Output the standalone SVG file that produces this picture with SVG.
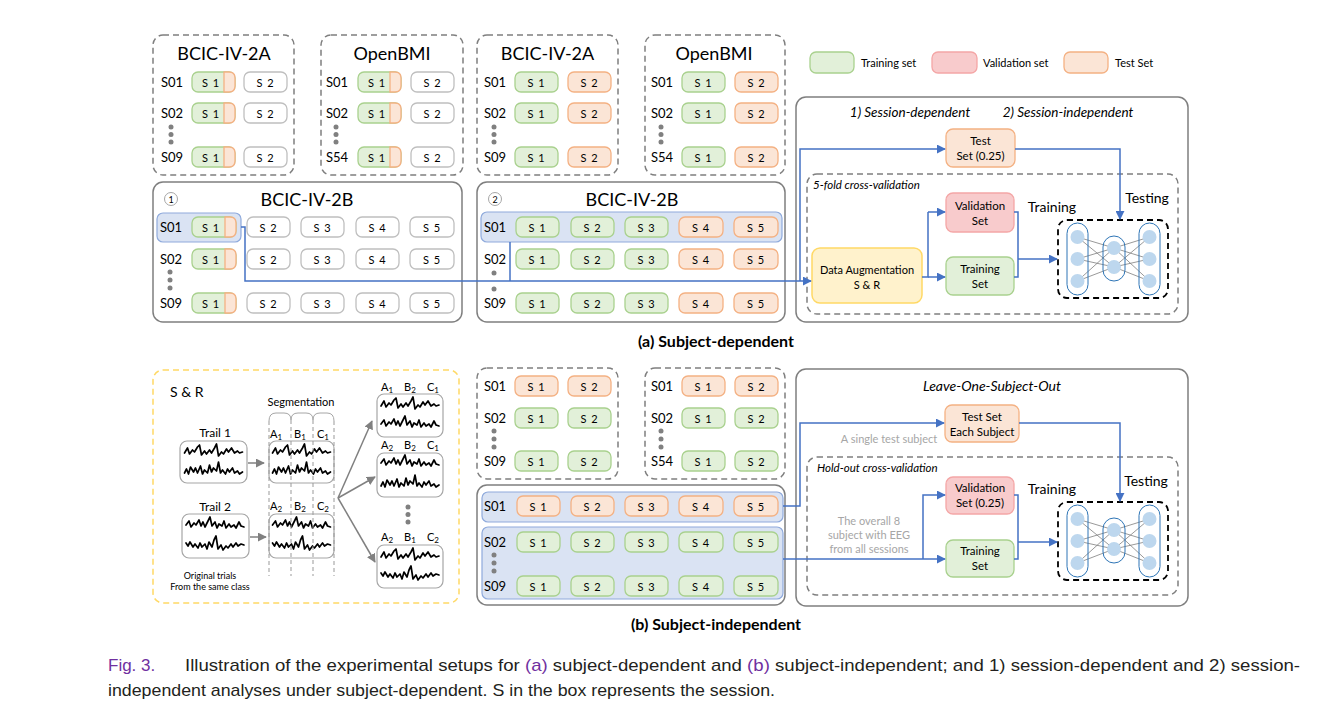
<svg xmlns="http://www.w3.org/2000/svg" xmlns:xlink="http://www.w3.org/1999/xlink" width="1343" height="712" viewBox="0 0 1343 712">
<style>
.db{fill:none;stroke:#7f7f7f;stroke-width:1.5;stroke-dasharray:6 4}
.sb{fill:none;stroke:#7f7f7f;stroke-width:1.5}
.pg{fill:#e2f0d9;stroke:#a9d18e;stroke-width:1.3}
.po{fill:#fbe5d6;stroke:#f4b183;stroke-width:1.3}
.pw{fill:#fff;stroke:#bfbfbf;stroke-width:1.3}
.pv{fill:#f8cbcc;stroke:#f4a6a6;stroke-width:1.3}
.py{fill:#fff2cc;stroke:#ffd966;stroke-width:1.5}
.hl{fill:#dae3f3;stroke:#8faadc;stroke-width:1.2}
text{font-family:Lato,"Open Sans",sans-serif;fill:#000}
.pt{font-size:11px;text-anchor:middle;dominant-baseline:central;letter-spacing:1px}
.rl{font-size:13px;text-anchor:middle;dominant-baseline:central}
.ttl{font-size:18px;text-anchor:middle}
.bx{font-size:11.5px;text-anchor:middle}
.lg{font-size:11px;dominant-baseline:central}
.it{font-style:italic}
.gr{fill:#a6a6a6;font-size:11px;text-anchor:middle}
.dot{fill:#808080}
.cn{fill:none;stroke:#4472c4;stroke-width:1.5}
.ca{fill:none;stroke:#4472c4;stroke-width:1.5;marker-end:url(#ab)}
.ga{fill:none;stroke:#808080;stroke-width:1.5;marker-end:url(#ag)}
.wv{fill:none;stroke:#000;stroke-width:1.7;stroke-linejoin:round;stroke-linecap:round}
.eb{fill:#fff;stroke:#a6a6a6;stroke-width:1.2}
.seg{fill:none;stroke:#999;stroke-width:1;stroke-dasharray:4 3}
.cap{font-family:"Liberation Sans",Arial,sans-serif;font-size:17px;fill:#231f20}
</style>
<defs>
<marker id="ab" viewBox="0 0 10 10" refX="9" refY="5" markerWidth="9" markerHeight="9" markerUnits="userSpaceOnUse" orient="auto"><path d="M0,0 L10,5 L0,10 z" fill="#4472c4"/></marker>
<marker id="ag" viewBox="0 0 10 10" refX="9" refY="5" markerWidth="9" markerHeight="9" markerUnits="userSpaceOnUse" orient="auto"><path d="M0,0 L10,5 L0,10 z" fill="#808080"/></marker>
<path id="w1" class="wv" d="M0,9 L3,4 L5,10 L8,6 L10,8 L13,3 L15,1 L17,11 L20,7 L22,10 L25,6 L27,9 L30,4 L32,0 L34,12 L37,8 L39,10 L42,5 L44,8 L47,4 L50,9 L53,7 L55,9 L58,8"/>
<path id="w2" class="wv" d="M0,10 L2,6 L4,11 L6,4 L9,9 L11,5 L13,10 L16,3 L18,11 L20,7 L23,10 L25,2 L27,9 L29,5 L32,8 L34,-1 L36,10 L38,7 L41,11 L43,6 L45,9 L48,5 L50,10 L53,8 L55,11 L58,9"/>
<path id="w3" class="wv" d="M0,7 L3,3 L5,9 L8,5 L10,7 L13,2 L15,8 L17,4 L19,9 L22,3 L24,-1 L26,8 L29,4 L31,10 L33,6 L36,8 L38,3 L40,10 L43,6 L45,9 L48,7 L50,10 L53,4 L55,8 L58,9"/>
<path id="w4" class="wv" d="M0,5 L2,8 L4,4 L7,9 L9,6 L12,10 L14,5 L16,9 L19,6 L21,11 L23,4 L26,9 L28,2 L30,-2 L32,11 L35,7 L37,12 L40,8 L42,10 L45,6 L47,9 L50,5 L52,8 L55,6 L58,7"/>
<g id="nn">
<rect x="0" y="0" width="110" height="78" rx="9" fill="#fff" stroke="#000" stroke-width="1.8" stroke-dasharray="6 4"/>
<g stroke="#7f7f7f" stroke-width="0.8">
<path d="M19.5,17 L56,28 M19.5,17 L56,47 M19.5,39 L56,28 M19.5,39 L56,47 M19.5,61 L56,28 M19.5,61 L56,47 M56,28 L91.5,17 M56,28 L91.5,39 M56,28 L91.5,61 M56,47 L91.5,17 M56,47 L91.5,39 M56,47 L91.5,61"/>
</g>
<g fill="none" stroke="#2e75b6" stroke-width="1">
<rect x="9" y="3" width="21" height="72" rx="10.5"/>
<rect x="45" y="16" width="22" height="45" rx="11"/>
<rect x="81" y="3" width="21" height="72" rx="10.5"/>
</g>
<g fill="#bdd7ee">
<circle cx="19.5" cy="17" r="7"/><circle cx="19.5" cy="39" r="7"/><circle cx="19.5" cy="61" r="7"/>
<circle cx="56" cy="28" r="7"/><circle cx="56" cy="47" r="7"/>
<circle cx="91.5" cy="17" r="7"/><circle cx="91.5" cy="39" r="7"/><circle cx="91.5" cy="61" r="7"/>
</g>
</g>
</defs>
<rect width="1343" height="712" fill="#fff"/>

<!-- (a) top: BCIC-IV-2A session-dependent -->
<g id="a-2a-1">
<rect class="db" x="153" y="35" width="141" height="140" rx="10"/>
<text class="ttl" x="224" y="60">BCIC-IV-2A</text>
<text class="rl" x="172" y="82">S01</text><text class="rl" x="172" y="113">S02</text><text class="rl" x="172" y="157">S09</text>
<circle class="dot" cx="171" cy="127" r="2.5"/><circle class="dot" cx="171" cy="134.5" r="2.5"/><circle class="dot" cx="171" cy="142" r="2.5"/>
<rect class="pg" x="192" y="72" width="43" height="20" rx="6"/><path class="po" d="M224,72 H229 Q235,72 235,78 V86 Q235,92 229,92 H224 Z"/><text class="pt" x="211" y="82">S 1</text>
<rect class="pw" x="244" y="72" width="43" height="20" rx="6"/><text class="pt" x="265.5" y="82">S 2</text>
<rect class="pg" x="192" y="103" width="43" height="20" rx="6"/><path class="po" d="M224,103 H229 Q235,103 235,109 V117 Q235,123 229,123 H224 Z"/><text class="pt" x="211" y="113">S 1</text>
<rect class="pw" x="244" y="103" width="43" height="20" rx="6"/><text class="pt" x="265.5" y="113">S 2</text>
<rect class="pg" x="192" y="147" width="43" height="20" rx="6"/><path class="po" d="M224,147 H229 Q235,147 235,153 V161 Q235,167 229,167 H224 Z"/><text class="pt" x="211" y="157">S 1</text>
<rect class="pw" x="244" y="147" width="43" height="20" rx="6"/><text class="pt" x="265.5" y="157">S 2</text>
</g>

<g id="a-obmi-1">
<rect class="db" x="321" y="35" width="142" height="140" rx="10"/>
<text class="ttl" x="392" y="60">OpenBMI</text>
<text class="rl" x="337" y="82">S01</text><text class="rl" x="337" y="113">S02</text><text class="rl" x="337" y="157">S54</text>
<circle class="dot" cx="336" cy="127" r="2.5"/><circle class="dot" cx="336" cy="134.5" r="2.5"/><circle class="dot" cx="336" cy="142" r="2.5"/>
<rect class="pg" x="358" y="72" width="43" height="20" rx="6"/><path class="po" d="M390,72 H395 Q401,72 401,78 V86 Q401,92 395,92 H390 Z"/><text class="pt" x="377" y="82">S 1</text>
<rect class="pw" x="411" y="72" width="43" height="20" rx="6"/><text class="pt" x="432.5" y="82">S 2</text>
<rect class="pg" x="358" y="103" width="43" height="20" rx="6"/><path class="po" d="M390,103 H395 Q401,103 401,109 V117 Q401,123 395,123 H390 Z"/><text class="pt" x="377" y="113">S 1</text>
<rect class="pw" x="411" y="103" width="43" height="20" rx="6"/><text class="pt" x="432.5" y="113">S 2</text>
<rect class="pg" x="358" y="147" width="43" height="20" rx="6"/><path class="po" d="M390,147 H395 Q401,147 401,153 V161 Q401,167 395,167 H390 Z"/><text class="pt" x="377" y="157">S 1</text>
<rect class="pw" x="411" y="147" width="43" height="20" rx="6"/><text class="pt" x="432.5" y="157">S 2</text>
</g>

<g id="a-2a-2">
<rect class="db" x="477" y="35" width="141" height="140" rx="10"/>
<text class="ttl" x="547.5" y="60">BCIC-IV-2A</text>
<text class="rl" x="495" y="82">S01</text><text class="rl" x="495" y="113">S02</text><text class="rl" x="495" y="157">S09</text>
<circle class="dot" cx="494" cy="127" r="2.5"/><circle class="dot" cx="494" cy="134.5" r="2.5"/><circle class="dot" cx="494" cy="142" r="2.5"/>
<rect class="pg" x="515" y="72" width="43" height="20" rx="6"/><text class="pt" x="536.5" y="82">S 1</text>
<rect class="po" x="568" y="72" width="43" height="20" rx="6"/><text class="pt" x="589.5" y="82">S 2</text>
<rect class="pg" x="515" y="103" width="43" height="20" rx="6"/><text class="pt" x="536.5" y="113">S 1</text>
<rect class="po" x="568" y="103" width="43" height="20" rx="6"/><text class="pt" x="589.5" y="113">S 2</text>
<rect class="pg" x="515" y="147" width="43" height="20" rx="6"/><text class="pt" x="536.5" y="157">S 1</text>
<rect class="po" x="568" y="147" width="43" height="20" rx="6"/><text class="pt" x="589.5" y="157">S 2</text>
</g>

<g id="a-obmi-2">
<rect class="db" x="645" y="35" width="140" height="140" rx="10"/>
<text class="ttl" x="714" y="60">OpenBMI</text>
<text class="rl" x="662" y="82">S01</text><text class="rl" x="662" y="113">S02</text><text class="rl" x="662" y="157">S54</text>
<circle class="dot" cx="661" cy="127" r="2.5"/><circle class="dot" cx="661" cy="134.5" r="2.5"/><circle class="dot" cx="661" cy="142" r="2.5"/>
<rect class="pg" x="682" y="72" width="43" height="20" rx="6"/><text class="pt" x="703.5" y="82">S 1</text>
<rect class="po" x="735" y="72" width="43" height="20" rx="6"/><text class="pt" x="756.5" y="82">S 2</text>
<rect class="pg" x="682" y="103" width="43" height="20" rx="6"/><text class="pt" x="703.5" y="113">S 1</text>
<rect class="po" x="735" y="103" width="43" height="20" rx="6"/><text class="pt" x="756.5" y="113">S 2</text>
<rect class="pg" x="682" y="147" width="43" height="20" rx="6"/><text class="pt" x="703.5" y="157">S 1</text>
<rect class="po" x="735" y="147" width="43" height="20" rx="6"/><text class="pt" x="756.5" y="157">S 2</text>
</g>

<g id="legend">
<rect class="pg" x="810" y="52" width="44" height="21" rx="6"/><text class="lg" x="861" y="62.5">Training set</text>
<rect class="pv" x="932" y="52" width="45" height="21" rx="6"/><text class="lg" x="983" y="62.5">Validation set</text>
<rect class="po" x="1064" y="52" width="44" height="21" rx="6"/><text class="lg" x="1115" y="62.5">Test Set</text>
</g>

<!-- (a) BCIC-IV-2B boxes -->
<g id="a-2b-1">
<rect class="sb" x="153" y="182" width="309" height="140" rx="10"/>
<circle cx="171" cy="199" r="6.5" fill="#fff" stroke="#a6a6a6" stroke-width="1"/><text x="171" y="199" font-size="9" text-anchor="middle" dominant-baseline="central">1</text>
<text class="ttl" x="307" y="206">BCIC-IV-2B</text>
<rect class="hl" x="157" y="213" width="84" height="29" rx="6"/>
<text class="rl" x="171" y="227">S01</text><text class="rl" x="171" y="259">S02</text><text class="rl" x="171" y="303">S09</text>
<circle class="dot" cx="170" cy="272" r="2.5"/><circle class="dot" cx="170" cy="280" r="2.5"/><circle class="dot" cx="170" cy="288" r="2.5"/>
<rect class="pg" x="192" y="217" width="44" height="20" rx="6"/><path class="po" d="M225,217 H230 Q236,217 236,223 V231 Q236,237 230,237 H225 Z"/><text class="pt" x="211" y="227">S 1</text>
<rect class="pw" x="247" y="217" width="43" height="20" rx="6"/><text class="pt" x="268.5" y="227">S 2</text>
<rect class="pw" x="301" y="217" width="43" height="20" rx="6"/><text class="pt" x="322.5" y="227">S 3</text>
<rect class="pw" x="356" y="217" width="43" height="20" rx="6"/><text class="pt" x="377.5" y="227">S 4</text>
<rect class="pw" x="410" y="217" width="44" height="20" rx="6"/><text class="pt" x="432" y="227">S 5</text>
<rect class="pg" x="192" y="249" width="44" height="20" rx="6"/><path class="po" d="M225,249 H230 Q236,249 236,255 V263 Q236,269 230,269 H225 Z"/><text class="pt" x="211" y="259">S 1</text>
<rect class="pw" x="247" y="249" width="43" height="20" rx="6"/><text class="pt" x="268.5" y="259">S 2</text>
<rect class="pw" x="301" y="249" width="43" height="20" rx="6"/><text class="pt" x="322.5" y="259">S 3</text>
<rect class="pw" x="356" y="249" width="43" height="20" rx="6"/><text class="pt" x="377.5" y="259">S 4</text>
<rect class="pw" x="410" y="249" width="44" height="20" rx="6"/><text class="pt" x="432" y="259">S 5</text>
<rect class="pg" x="192" y="293" width="44" height="20" rx="6"/><path class="po" d="M225,293 H230 Q236,293 236,299 V307 Q236,313 230,313 H225 Z"/><text class="pt" x="211" y="303">S 1</text>
<rect class="pw" x="247" y="293" width="43" height="20" rx="6"/><text class="pt" x="268.5" y="303">S 2</text>
<rect class="pw" x="301" y="293" width="43" height="20" rx="6"/><text class="pt" x="322.5" y="303">S 3</text>
<rect class="pw" x="356" y="293" width="43" height="20" rx="6"/><text class="pt" x="377.5" y="303">S 4</text>
<rect class="pw" x="410" y="293" width="44" height="20" rx="6"/><text class="pt" x="432" y="303">S 5</text>
</g>

<g id="a-2b-2">
<rect class="sb" x="477" y="182" width="308" height="140" rx="10"/>
<circle cx="495" cy="199" r="6.5" fill="#fff" stroke="#a6a6a6" stroke-width="1"/><text x="495" y="199" font-size="9" text-anchor="middle" dominant-baseline="central">2</text>
<text class="ttl" x="632" y="206">BCIC-IV-2B</text>
<rect class="hl" x="481" y="212" width="301" height="30" rx="6"/>
<text class="rl" x="495" y="227">S01</text><text class="rl" x="495" y="259">S02</text><text class="rl" x="495" y="303">S09</text>
<circle class="dot" cx="494" cy="273" r="2.5"/><circle class="dot" cx="494" cy="289" r="2.5"/>
<rect class="pg" x="516" y="217" width="43" height="20" rx="6"/><text class="pt" x="537.5" y="227">S 1</text>
<rect class="pg" x="571" y="217" width="43" height="20" rx="6"/><text class="pt" x="592.5" y="227">S 2</text>
<rect class="pg" x="625" y="217" width="43" height="20" rx="6"/><text class="pt" x="646.5" y="227">S 3</text>
<rect class="po" x="679" y="217" width="44" height="20" rx="6"/><text class="pt" x="701" y="227">S 4</text>
<rect class="po" x="734" y="217" width="44" height="20" rx="6"/><text class="pt" x="756" y="227">S 5</text>
<rect class="pg" x="516" y="249" width="43" height="20" rx="6"/><text class="pt" x="537.5" y="259">S 1</text>
<rect class="pg" x="571" y="249" width="43" height="20" rx="6"/><text class="pt" x="592.5" y="259">S 2</text>
<rect class="pg" x="625" y="249" width="43" height="20" rx="6"/><text class="pt" x="646.5" y="259">S 3</text>
<rect class="po" x="679" y="249" width="44" height="20" rx="6"/><text class="pt" x="701" y="259">S 4</text>
<rect class="po" x="734" y="249" width="44" height="20" rx="6"/><text class="pt" x="756" y="259">S 5</text>
<rect class="pg" x="516" y="293" width="43" height="20" rx="6"/><text class="pt" x="537.5" y="303">S 1</text>
<rect class="pg" x="571" y="293" width="43" height="20" rx="6"/><text class="pt" x="592.5" y="303">S 2</text>
<rect class="pg" x="625" y="293" width="43" height="20" rx="6"/><text class="pt" x="646.5" y="303">S 3</text>
<rect class="po" x="679" y="293" width="44" height="20" rx="6"/><text class="pt" x="701" y="303">S 4</text>
<rect class="po" x="734" y="293" width="44" height="20" rx="6"/><text class="pt" x="756" y="303">S 5</text>
</g>

<!-- (a) right panel -->
<g id="a-panel">
<rect class="sb" x="796" y="97" width="392" height="225" rx="10"/>
<text class="it" x="910" y="117" font-size="13.5" text-anchor="middle">1) Session-dependent</text>
<text class="it" x="1068" y="117" font-size="13.5" text-anchor="middle">2) Session-independent</text>
<rect class="db" x="807" y="174" width="371" height="140" rx="10"/>
<text class="it" x="813" y="189" font-size="11.5">5-fold cross-validation</text>
<text x="1052" y="212" font-size="14" text-anchor="middle">Training</text>
<text x="1147" y="203" font-size="14" text-anchor="middle">Testing</text>
</g>
<g id="a-test"><rect class="po" x="946" y="129" width="69" height="38" rx="7"/><text class="bx" x="980.5" y="145">Test</text><text class="bx" x="980.5" y="160">Set (0.25)</text></g>
<g id="a-val"><rect class="pv" x="946" y="193" width="68" height="39" rx="7"/><text class="bx" x="980" y="210">Validation</text><text class="bx" x="980" y="225">Set</text></g>
<g id="a-train"><rect class="pg" x="946" y="257" width="68" height="38" rx="7"/><text class="bx" x="980" y="273">Training</text><text class="bx" x="980" y="288">Set</text></g>
<g id="a-da"><rect class="py" x="812" y="248" width="110" height="55" rx="8"/><text x="867" y="274" font-size="11" text-anchor="middle">Data Augmentation</text><text x="867" y="289" font-size="11" text-anchor="middle">S &amp; R</text></g>
<g id="a-nn"><use xlink:href="#nn" x="1058" y="220"/></g>

<!-- (a) caption -->
<text x="716" y="347" font-size="16" font-weight="bold" text-anchor="middle">(a) Subject-dependent</text>

<!-- (b) S&R -->
<g id="b-sr">
<rect x="153" y="370" width="306" height="233" rx="10" fill="none" stroke="#ffd966" stroke-width="1.5" stroke-dasharray="6 4"/>
<text x="170" y="397" font-size="14">S &amp; R</text>
<text x="215" y="437" font-size="12" text-anchor="middle">Trail 1</text>
<text x="215" y="511" font-size="12" text-anchor="middle">Trail 2</text>
<text x="210" y="579" font-size="9" text-anchor="middle">Original trials</text>
<text x="210" y="590" font-size="9" text-anchor="middle">From the same class</text>
<text x="301" y="406" font-size="11" text-anchor="middle">Segmentation</text>
<rect class="eb" x="180" y="441" width="67" height="42" rx="7"/>
<use xlink:href="#w1" x="184.5" y="444"/><use xlink:href="#w2" x="184.5" y="463"/>
<rect class="eb" x="182" y="514" width="67" height="44" rx="7"/>
<use xlink:href="#w3" x="186" y="518"/><use xlink:href="#w4" x="186" y="538"/>
<path class="ga" d="M248,463 H264"/>
<path class="ga" d="M250,537 H266"/>
<rect class="eb" x="269" y="441" width="65" height="42" rx="7"/>
<use xlink:href="#w1" x="272.5" y="444"/><use xlink:href="#w2" x="272.5" y="463"/>
<rect class="eb" x="269" y="514" width="65" height="44" rx="7"/>
<use xlink:href="#w3" x="272.5" y="518"/><use xlink:href="#w4" x="272.5" y="538"/>
<path d="M269,421 Q269,413 276,413 H284 Q291,413 291,420 Q291,413 298,413 H306 Q313,413 313,420 Q313,413 320,413 H327 Q334,413 334,421" fill="none" stroke="#a6a6a6" stroke-width="1"/>
<path class="seg" d="M269,421 V576 M291,420 V576 M313,420 V576 M334,421 V576"/>
<text x="276" y="438" font-size="11" text-anchor="middle">A<tspan font-size="8" dy="2">1</tspan></text>
<text x="300" y="438" font-size="11" text-anchor="middle">B<tspan font-size="8" dy="2">1</tspan></text>
<text x="323" y="438" font-size="11" text-anchor="middle">C<tspan font-size="8" dy="2">1</tspan></text>
<text x="276" y="510" font-size="11" text-anchor="middle">A<tspan font-size="8" dy="2">2</tspan></text>
<text x="300" y="510" font-size="11" text-anchor="middle">B<tspan font-size="8" dy="2">2</tspan></text>
<text x="323" y="510" font-size="11" text-anchor="middle">C<tspan font-size="8" dy="2">2</tspan></text>
<path class="ga" d="M338,498 L372,421"/>
<path class="ga" d="M338,498 L375,477"/>
<path class="ga" d="M338,498 L375,562"/>
<text x="387" y="391" font-size="11" text-anchor="middle">A<tspan font-size="8" dy="2">1</tspan></text>
<text x="410" y="391" font-size="11" text-anchor="middle">B<tspan font-size="8" dy="2">2</tspan></text>
<text x="433" y="391" font-size="11" text-anchor="middle">C<tspan font-size="8" dy="2">1</tspan></text>
<rect class="eb" x="377" y="394" width="66" height="43" rx="7"/>
<use xlink:href="#w1" x="381" y="397"/><use xlink:href="#w3" x="381" y="417"/>
<text x="387" y="449" font-size="11" text-anchor="middle">A<tspan font-size="8" dy="2">2</tspan></text>
<text x="410" y="449" font-size="11" text-anchor="middle">B<tspan font-size="8" dy="2">2</tspan></text>
<text x="433" y="449" font-size="11" text-anchor="middle">C<tspan font-size="8" dy="2">1</tspan></text>
<rect class="eb" x="377" y="453" width="66" height="44" rx="7"/>
<use xlink:href="#w3" x="381" y="456"/><use xlink:href="#w2" x="381" y="476"/>
<circle class="dot" cx="408" cy="507" r="2.5"/><circle class="dot" cx="408" cy="514.5" r="2.5"/><circle class="dot" cx="408" cy="522" r="2.5"/>
<text x="387" y="541" font-size="11" text-anchor="middle">A<tspan font-size="8" dy="2">2</tspan></text>
<text x="410" y="541" font-size="11" text-anchor="middle">B<tspan font-size="8" dy="2">1</tspan></text>
<text x="433" y="541" font-size="11" text-anchor="middle">C<tspan font-size="8" dy="2">2</tspan></text>
<rect class="eb" x="377" y="545" width="66" height="43" rx="7"/>
<use xlink:href="#w1" x="381" y="548"/><use xlink:href="#w4" x="381" y="568"/>
</g>

<!-- (b) top boxes -->
<g id="b-2a">
<rect class="db" x="477" y="368" width="141" height="111" rx="10"/>
<text class="rl" x="495" y="386">S01</text><text class="rl" x="495" y="418">S02</text><text class="rl" x="495" y="461">S09</text>
<circle class="dot" cx="494" cy="431" r="2.5"/><circle class="dot" cx="494" cy="439" r="2.5"/><circle class="dot" cx="494" cy="447" r="2.5"/>
<rect class="po" x="515" y="376" width="43" height="20" rx="6"/><text class="pt" x="536.5" y="386">S 1</text>
<rect class="po" x="568" y="376" width="43" height="20" rx="6"/><text class="pt" x="589.5" y="386">S 2</text>
<rect class="pg" x="515" y="408" width="43" height="20" rx="6"/><text class="pt" x="536.5" y="418">S 1</text>
<rect class="pg" x="568" y="408" width="43" height="20" rx="6"/><text class="pt" x="589.5" y="418">S 2</text>
<rect class="pg" x="515" y="451" width="43" height="20" rx="6"/><text class="pt" x="536.5" y="461">S 1</text>
<rect class="pg" x="568" y="451" width="43" height="20" rx="6"/><text class="pt" x="589.5" y="461">S 2</text>
</g>
<g id="b-obmi">
<rect class="db" x="645" y="368" width="140" height="111" rx="10"/>
<text class="rl" x="662" y="386">S01</text><text class="rl" x="662" y="418">S02</text><text class="rl" x="662" y="461">S54</text>
<circle class="dot" cx="661" cy="431" r="2.5"/><circle class="dot" cx="661" cy="439" r="2.5"/><circle class="dot" cx="661" cy="447" r="2.5"/>
<rect class="po" x="682" y="376" width="43" height="20" rx="6"/><text class="pt" x="703.5" y="386">S 1</text>
<rect class="po" x="735" y="376" width="43" height="20" rx="6"/><text class="pt" x="756.5" y="386">S 2</text>
<rect class="pg" x="682" y="408" width="43" height="20" rx="6"/><text class="pt" x="703.5" y="418">S 1</text>
<rect class="pg" x="735" y="408" width="43" height="20" rx="6"/><text class="pt" x="756.5" y="418">S 2</text>
<rect class="pg" x="682" y="451" width="43" height="20" rx="6"/><text class="pt" x="703.5" y="461">S 1</text>
<rect class="pg" x="735" y="451" width="43" height="20" rx="6"/><text class="pt" x="756.5" y="461">S 2</text>
</g>

<g id="b-2b">
<rect class="sb" x="477" y="485" width="308" height="120" rx="10"/>
<rect class="hl" x="482" y="492" width="301" height="30" rx="6"/>
<rect class="hl" x="482" y="527" width="301" height="72" rx="6"/>
<text class="rl" x="495" y="506">S01</text><text class="rl" x="495" y="542">S02</text><text class="rl" x="495" y="586">S09</text>
<circle class="dot" cx="494" cy="555" r="2.5"/><circle class="dot" cx="494" cy="563" r="2.5"/><circle class="dot" cx="494" cy="571" r="2.5"/>
<rect class="po" x="517" y="496" width="43" height="20" rx="6"/><text class="pt" x="538.5" y="506">S 1</text>
<rect class="po" x="571" y="496" width="43" height="20" rx="6"/><text class="pt" x="592.5" y="506">S 2</text>
<rect class="po" x="625" y="496" width="43" height="20" rx="6"/><text class="pt" x="646.5" y="506">S 3</text>
<rect class="po" x="679" y="496" width="44" height="20" rx="6"/><text class="pt" x="701" y="506">S 4</text>
<rect class="po" x="734" y="496" width="44" height="20" rx="6"/><text class="pt" x="756" y="506">S 5</text>
<rect class="pg" x="517" y="532" width="43" height="20" rx="6"/><text class="pt" x="538.5" y="542">S 1</text>
<rect class="pg" x="571" y="532" width="43" height="20" rx="6"/><text class="pt" x="592.5" y="542">S 2</text>
<rect class="pg" x="625" y="532" width="43" height="20" rx="6"/><text class="pt" x="646.5" y="542">S 3</text>
<rect class="pg" x="679" y="532" width="44" height="20" rx="6"/><text class="pt" x="701" y="542">S 4</text>
<rect class="pg" x="734" y="532" width="44" height="20" rx="6"/><text class="pt" x="756" y="542">S 5</text>
<rect class="pg" x="517" y="576" width="43" height="20" rx="6"/><text class="pt" x="538.5" y="586">S 1</text>
<rect class="pg" x="571" y="576" width="43" height="20" rx="6"/><text class="pt" x="592.5" y="586">S 2</text>
<rect class="pg" x="625" y="576" width="43" height="20" rx="6"/><text class="pt" x="646.5" y="586">S 3</text>
<rect class="pg" x="679" y="576" width="44" height="20" rx="6"/><text class="pt" x="701" y="586">S 4</text>
<rect class="pg" x="734" y="576" width="44" height="20" rx="6"/><text class="pt" x="756" y="586">S 5</text>
</g>

<!-- (b) right panel -->
<g id="b-panel">
<rect class="sb" x="796" y="369" width="392" height="237" rx="10"/>
<text class="it" x="992" y="391" font-size="14" text-anchor="middle">Leave-One-Subject-Out</text>
<text class="gr" x="889" y="443">A single test subject</text>
<rect class="db" x="807" y="457" width="371" height="138" rx="10"/>
<text class="it" x="817" y="472" font-size="11.5">Hold-out cross-validation</text>
<text class="gr" x="869" y="525">The overall 8</text>
<text class="gr" x="869" y="539">subject with EEG</text>
<text class="gr" x="869" y="553">from all sessions</text>
<text x="1052" y="494" font-size="14" text-anchor="middle">Training</text>
<text x="1146" y="486" font-size="14" text-anchor="middle">Testing</text>
</g>
<g id="b-test"><rect class="po" x="945" y="405" width="74" height="37" rx="7"/><text class="bx" x="982" y="421">Test Set</text><text class="bx" x="982" y="436">Each Subject</text></g>
<g id="b-val"><rect class="pv" x="946" y="477" width="68" height="37" rx="7"/><text class="bx" x="980" y="492">Validation</text><text class="bx" x="980" y="507">Set (0.25)</text></g>
<g id="b-train"><rect class="pg" x="946" y="540" width="68" height="37" rx="7"/><text class="bx" x="980" y="555">Training</text><text class="bx" x="980" y="570">Set</text></g>
<g id="b-nn"><use xlink:href="#nn" x="1058" y="502"/></g>

<text x="716" y="630" font-size="16" font-weight="bold" text-anchor="middle">(b) Subject-independent</text>

<!-- connectors -->
<g id="connectors">
<path class="ca" d="M241,227 H245 V281 H811"/>
<path class="cn" d="M510,242 V281"/>
<path class="ca" d="M800,281 V149 H945"/>
<path class="ca" d="M1015,149 H1120 V219"/>
<path class="cn" d="M922,277 H928 V212"/>
<path class="ca" d="M928,212 H945"/>
<path class="ca" d="M928,277 H945"/>
<path class="cn" d="M1014,212 H1018 V277 H1014"/>
<path class="ca" d="M1018,259 H1057"/>
<path class="ca" d="M783,506 H800 V423 H944"/>
<path class="ca" d="M783,559 H945"/>
<path class="ca" d="M923,559 V495 H945"/>
<path class="ca" d="M1019,423 H1120 V501"/>
<path class="cn" d="M1014,495 H1018 V559 H1014"/>
<path class="ca" d="M1018,542 H1057"/>
</g>

<!-- figure caption -->
<text class="cap" x="108" y="671" style="fill:#7030a0">Fig. 3.</text>
<text class="cap" x="185" y="671" textLength="1115" lengthAdjust="spacingAndGlyphs">Illustration of the experimental setups for <tspan style="fill:#7030a0">(a)</tspan> subject-dependent and <tspan style="fill:#7030a0">(b)</tspan> subject-independent; and 1) session-dependent and 2) session-</text>
<text class="cap" x="108" y="696" textLength="667" lengthAdjust="spacingAndGlyphs">independent analyses under subject-dependent. S in the box represents the session.</text>
</svg>
